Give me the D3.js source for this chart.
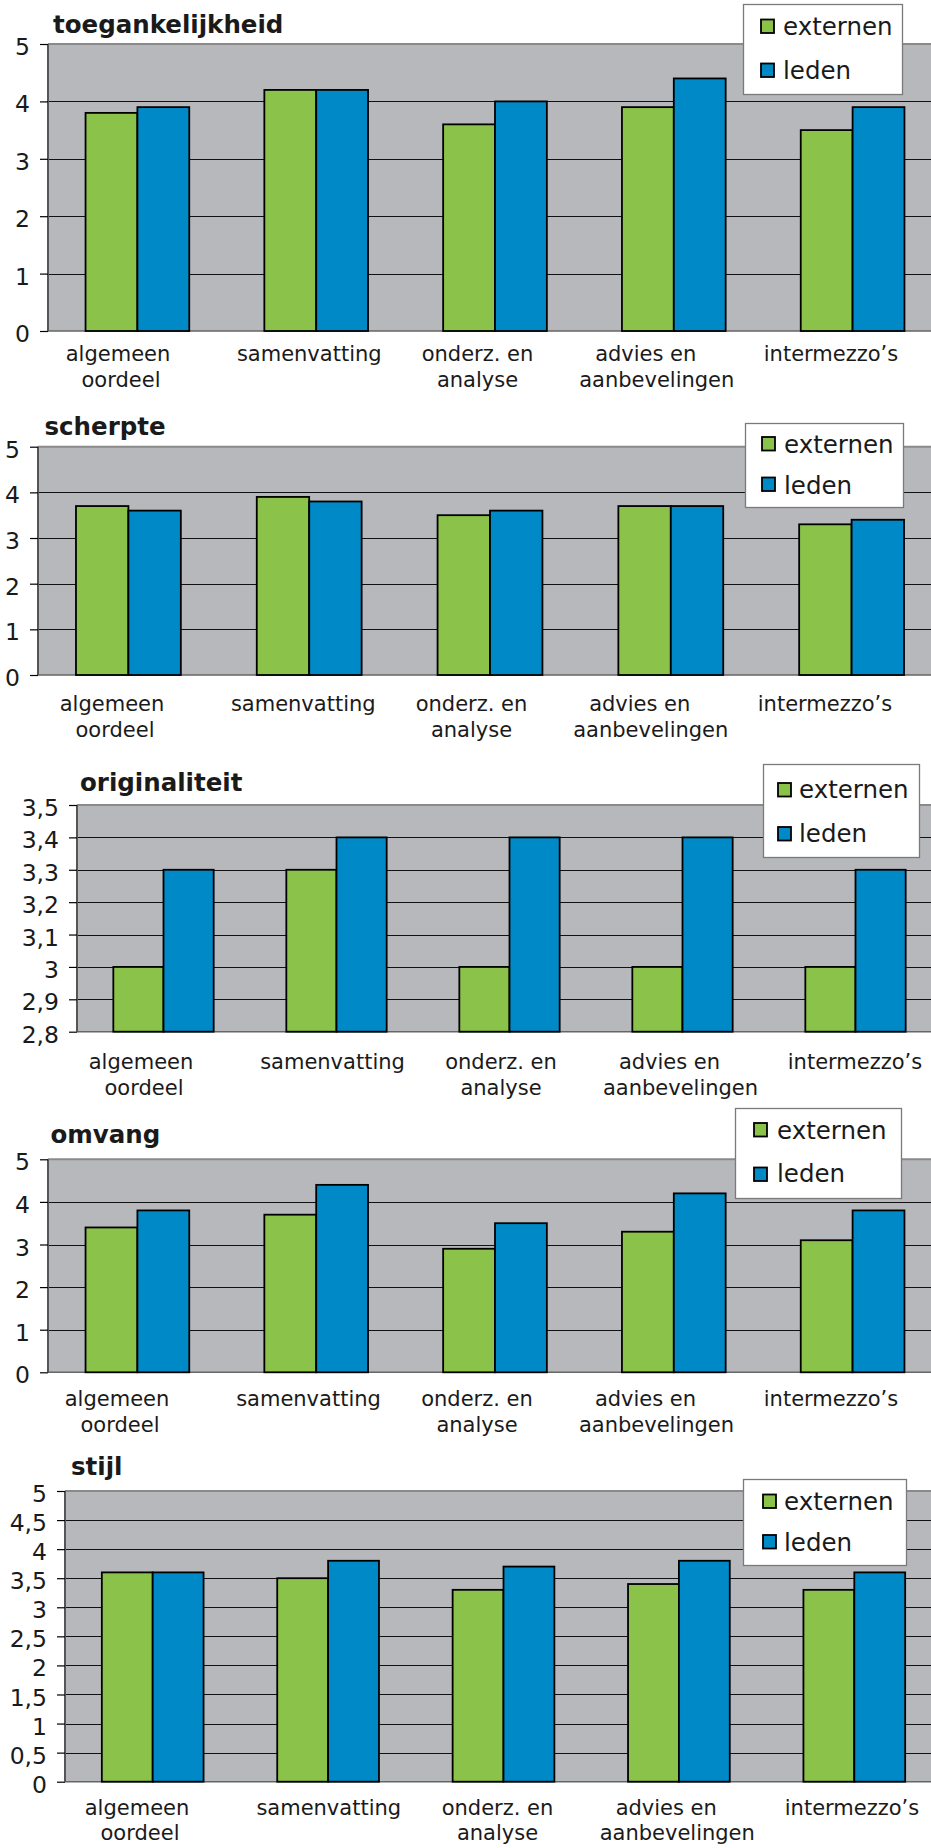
<!DOCTYPE html>
<html>
<head>
<meta charset="utf-8">
<script src="https://cdn.jsdelivr.net/npm/d3@7"></script>
<style>
  html, body { margin: 0; padding: 0; background: #ffffff; }
  svg { display: block; }
  text { font-family: "DejaVu Sans", Verdana, sans-serif; fill: #1a1a1a; }
</style>
</head>
<body>
<script>
// ---------- DATA ----------
const categories = ["algemeen oordeel", "samenvatting", "onderz. en analyse", "advies en aanbevelingen", "intermezzo’s"];
const categoryLines = [["algemeen", "oordeel"], ["samenvatting"], ["onderz. en", "analyse"], ["advies en", "aanbevelingen"], ["intermezzo’s"]];
const seriesNames = ["externen", "leden"];

const toegankelijkheidExternen = [3.8, 4.2, 3.6, 3.9, 3.5];
const toegankelijkheidLeden    = [3.9, 4.2, 4.0, 4.4, 3.9];
const scherpteExternen = [3.7, 3.9, 3.5, 3.7, 3.3];
const scherpteLeden    = [3.6, 3.8, 3.6, 3.7, 3.4];
const originaliteitExternen = [3.0, 3.3, 3.0, 3.0, 3.0];
const originaliteitLeden    = [3.3, 3.4, 3.4, 3.4, 3.3];
const omvangExternen = [3.4, 3.7, 2.9, 3.3, 3.1];
const omvangLeden    = [3.8, 4.4, 3.5, 4.2, 3.8];
const stijlExternen = [3.6, 3.5, 3.3, 3.4, 3.3];
const stijlLeden    = [3.6, 3.8, 3.7, 3.8, 3.6];

const ticksWhole = [0, 1, 2, 3, 4, 5];
const ticksOriginaliteit = [2.8, 2.9, 3.0, 3.1, 3.2, 3.3, 3.4, 3.5];
const ticksStijl = [0, 0.5, 1, 1.5, 2, 2.5, 3, 3.5, 4, 4.5, 5];

// ---------- STYLE / LAYOUT ----------
const colors = { externen: "#8BC34A", leden: "#0089C7" };
const PLOT_RIGHT = 942;
const labelLineDx = [[0, 3], [13], [3, 3], [-7, 4], [0]];

const charts = [
  { title: "toegankelijkheid", ext: toegankelijkheidExternen, led: toegankelijkheidLeden,
    domain: [0, 5], ticks: ticksWhole, left: 48, top: 44, bottom: 331,
    titleX: 53, titleY: 33,
    legend: { x: 743, y: 4, w: 159, h: 90, sqX: 761, sq1: 19.5, sq2: 63.5, tx: 783, b1: 35, b2: 78.5 },
    labelRange: [118, 831], labelBase: 361, lineGap: 26 },
  { title: "scherpte", ext: scherpteExternen, led: scherpteLeden,
    domain: [0, 5], ticks: ticksWhole, left: 38, top: 446.7, bottom: 675,
    titleX: 44.5, titleY: 435,
    legend: { x: 745, y: 423, w: 158, h: 84, sqX: 762, sq1: 437, sq2: 477.5, tx: 784, b1: 453, b2: 493.5 },
    labelRange: [112, 825], labelBase: 711, lineGap: 26 },
  { title: "originaliteit", ext: originaliteitExternen, led: originaliteitLeden,
    domain: [2.8, 3.5], ticks: ticksOriginaliteit, left: 77, top: 805, bottom: 1031.7,
    titleX: 80, titleY: 791,
    legend: { x: 763, y: 764, w: 156, h: 93, sqX: 778, sq1: 783, sq2: 827, tx: 799, b1: 797.5, b2: 841.5 },
    labelRange: [141, 855], labelBase: 1069, lineGap: 26 },
  { title: "omvang", ext: omvangExternen, led: omvangLeden,
    domain: [0, 5], ticks: ticksWhole, left: 48, top: 1159.3, bottom: 1372.3,
    titleX: 50.5, titleY: 1143,
    legend: { x: 735, y: 1108, w: 166, h: 90, sqX: 754, sq1: 1123, sq2: 1167.5, tx: 777, b1: 1138.5, b2: 1182 },
    labelRange: [117, 831], labelBase: 1406, lineGap: 26 },
  { title: "stijl", ext: stijlExternen, led: stijlLeden,
    domain: [0, 5], ticks: ticksStijl, left: 65, top: 1491, bottom: 1781.7,
    titleX: 71, titleY: 1475,
    legend: { x: 743, y: 1479, w: 163, h: 86, sqX: 763, sq1: 1494.5, sq2: 1535, tx: 784, b1: 1510, b2: 1550.5 },
    labelRange: [137, 852], labelBase: 1815, lineGap: 25 }
];

const fmt = v => d3.format("~g")(v).replace(".", ",");

const svg = d3.select("body").append("svg")
  .attr("width", 931).attr("height", 1848);

charts.forEach(c => {
  const g = svg.append("g");
  const x0 = d3.scaleBand().domain(categories).range([c.left, PLOT_RIGHT])
    .paddingInner(0.42).paddingOuter(0.21);
  const x1 = d3.scaleBand().domain(seriesNames).range([0, x0.bandwidth()]);
  const y = d3.scaleLinear().domain(c.domain).range([c.bottom, c.top]);

  // plot area
  g.append("rect").attr("x", c.left).attr("y", c.top)
    .attr("width", PLOT_RIGHT - c.left).attr("height", c.bottom - c.top)
    .attr("fill", "#b7b8bc");

  // gridlines (inner)
  g.selectAll("line.grid").data(c.ticks.slice(1, -1)).join("line")
    .attr("x1", c.left).attr("x2", PLOT_RIGHT)
    .attr("y1", d => Math.round(y(d)) + 0.5).attr("y2", d => Math.round(y(d)) + 0.5)
    .attr("stroke", "#111").attr("stroke-width", 1.2);

  // top border
  g.append("line").attr("x1", c.left).attr("x2", PLOT_RIGHT)
    .attr("y1", y(c.domain[1])).attr("y2", y(c.domain[1]))
    .attr("stroke", "#8a8a8a").attr("stroke-width", 2);
  // bottom border
  g.append("line").attr("x1", c.left).attr("x2", PLOT_RIGHT)
    .attr("y1", y(c.domain[0])).attr("y2", y(c.domain[0]))
    .attr("stroke", "#666").attr("stroke-width", 1.5);

  // bars
  const rows = categories.map((cat, i) => ({ cat, values: [
    { key: "externen", value: c.ext[i] }, { key: "leden", value: c.led[i] } ] }));
  g.selectAll("g.grp").data(rows).join("g")
    .attr("transform", d => `translate(${x0(d.cat)},0)`)
    .selectAll("rect").data(d => d.values).join("rect")
    .attr("x", d => x1(d.key)).attr("width", x1.bandwidth())
    .attr("y", d => y(d.value)).attr("height", d => y(c.domain[0]) - y(d.value))
    .attr("fill", d => colors[d.key]).attr("stroke", "#000").attr("stroke-width", 1.8);

  // y axis
  const axis = d3.axisLeft(y).tickValues(c.ticks).tickFormat(fmt).tickSize(8).tickPadding(10);
  const ax = g.append("g").attr("transform", `translate(${c.left},0)`).call(axis);
  ax.select(".domain").attr("stroke", "#555").attr("stroke-width", 2).attr("d", `M0,${c.top}V${c.bottom}`);
  ax.selectAll(".tick line").attr("stroke", "#000").attr("stroke-width", 1.2);
  ax.selectAll(".tick text").attr("font-size", 23.5).attr("dy", "0.45em")
    .attr("font-family", "'DejaVu Sans', Verdana, sans-serif").attr("fill", "#1a1a1a");

  // category labels
  const lx = d3.scalePoint().domain(categories).range(c.labelRange);
  categories.forEach((cat, i) => {
    categoryLines[i].forEach((line, j) => {
      g.append("text").attr("x", lx(cat) + labelLineDx[i][j])
        .attr("y", c.labelBase + j * c.lineGap)
        .attr("text-anchor", "middle").attr("font-size", 21)
        .text(line);
    });
  });

  // title
  g.append("text").attr("x", c.titleX).attr("y", c.titleY)
    .attr("font-size", 24.5).attr("font-weight", "bold").attr("fill", "#000")
    .text(c.title);

  // legend
  const L = c.legend;
  g.append("rect").attr("x", L.x + 0.5).attr("y", L.y + 0.5).attr("width", L.w).attr("height", L.h)
    .attr("fill", "#fff").attr("stroke", "#7a7a7a").attr("stroke-width", 1.3);
  seriesNames.forEach((s, i) => {
    g.append("rect").attr("x", L.sqX).attr("y", i === 0 ? L.sq1 : L.sq2)
      .attr("width", 13).attr("height", 13.5)
      .attr("fill", colors[s]).attr("stroke", "#000").attr("stroke-width", 1.8);
    g.append("text").attr("x", L.tx).attr("y", i === 0 ? L.b1 : L.b2)
      .attr("font-size", 24.5).text(s);
  });
});
</script>
</body>
</html>
